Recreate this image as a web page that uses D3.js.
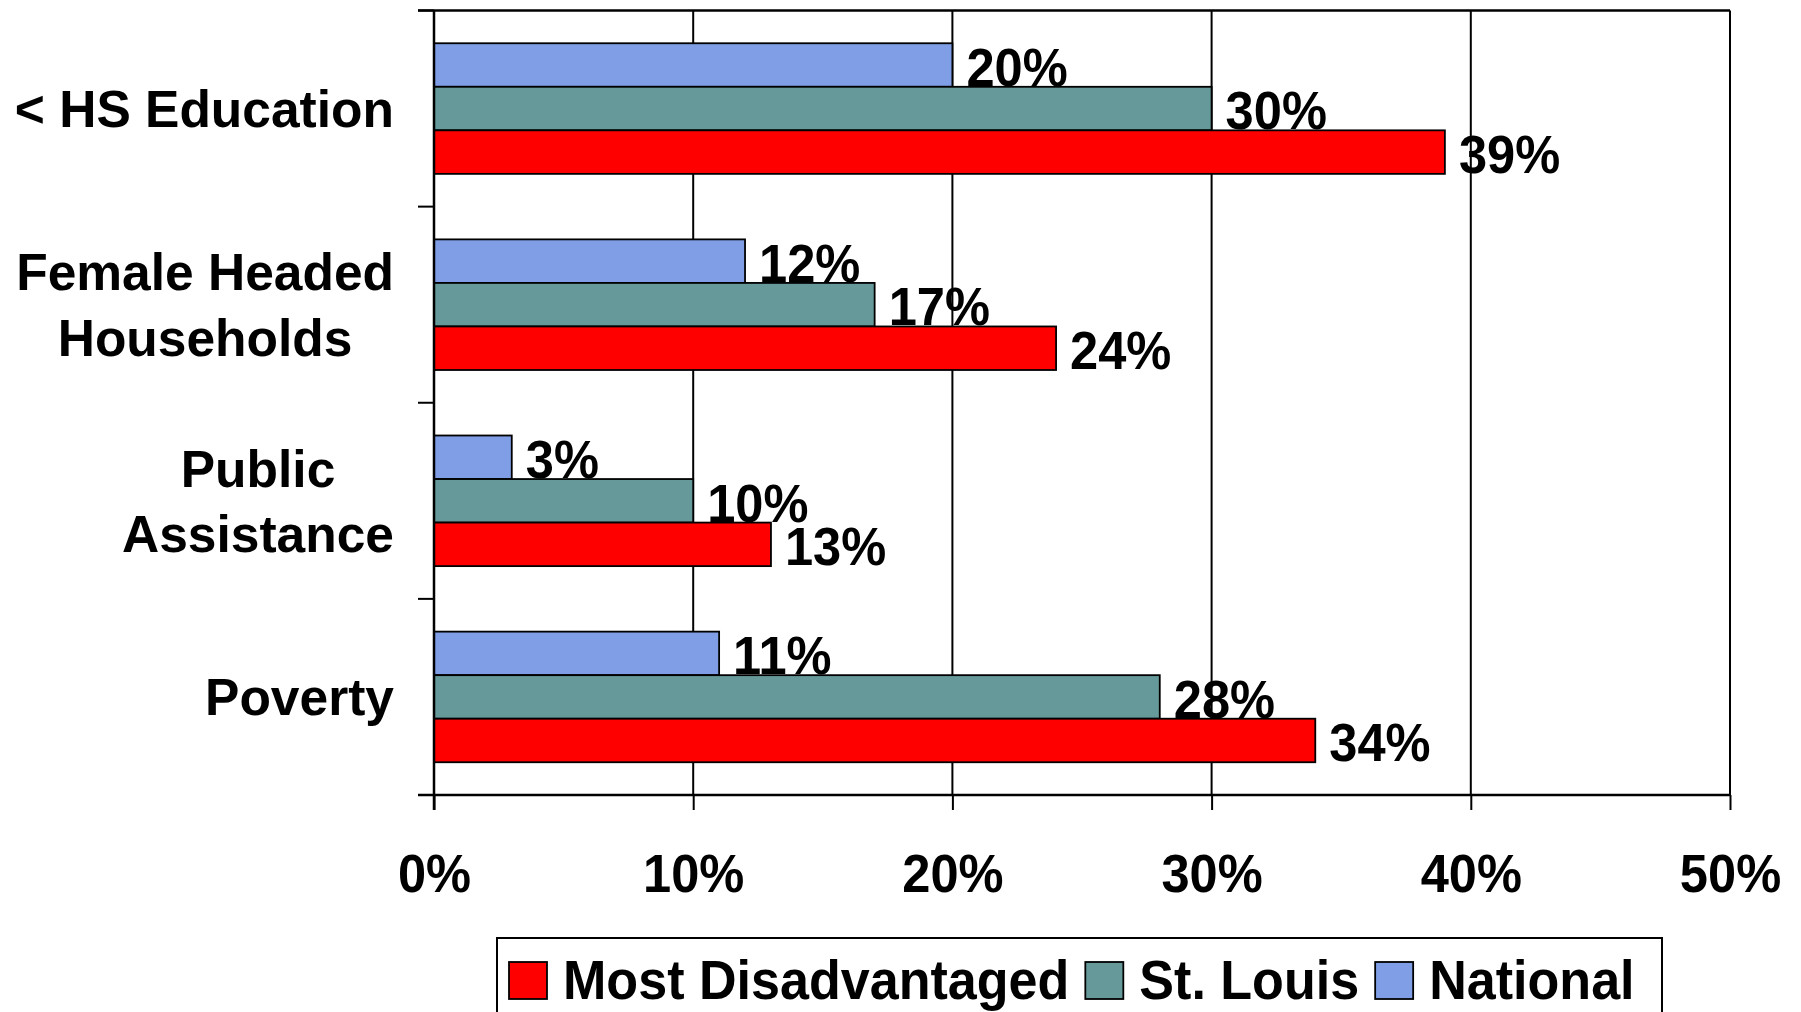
<!DOCTYPE html>
<html>
<head>
<meta charset="utf-8">
<script src="https://cdn.jsdelivr.net/npm/d3@7"></script>
<style>
	body { margin: 0; background: #fff; }
	svg { display: block; font-family: "Liberation Sans", Arial, sans-serif; font-weight: bold; }
</style>
</head>
<body>
<div id="chart"></div>
<script>
// categories top to bottom, each may break onto two lines
const categories = ["< HS Education", "Female Headed Households", "Public Assistance", "Poverty"];
const category_lines = [["< HS Education"], ["Female Headed", "Households"], ["Public", "Assistance"], ["Poverty"]];

// series in the order they are stacked inside a group (top to bottom)
const series = ["National", "St. Louis", "Most Disadvantaged"];
const national = [20, 12, 3, 11];
const st_louis = [30, 17, 10, 28];
const most_disadvantaged = [39, 24, 13, 34];

const x_ticks = [0, 10, 20, 30, 40, 50];
const legend_order = ["Most Disadvantaged", "St. Louis", "National"];

const color_list = { "National": "#7f9ee6", "St. Louis": "#669999", "Most Disadvantaged": "#ff0000" };

const width = 1801;
const height = 1012;
const margin = { top: 10.5, right: 71, bottom: 217, left: 434 };
const narrow = 0.93; // the numbers are drawn a bit condensed
const narrow_val = 0.955;

const values = { "National": national, "St. Louis": st_louis, "Most Disadvantaged": most_disadvantaged };

const svg = d3
	.select("#chart")
	.append("svg")
	.attr("width", width)
	.attr("height", height);

const x = d3
	.scaleLinear()
	.domain([0, 50])
	.range([margin.left, width - margin.right]);

const y = d3
	.scaleBand()
	.domain(categories)
	.range([margin.top, height - margin.bottom])
	.paddingInner(0.334)
	.paddingOuter(0.167);

const ySub = d3
	.scaleBand()
	.domain(series)
	.range([0, y.bandwidth()]);

const step = y.step();
const plotBottom = height - margin.bottom;

// vertical gridlines + right border
svg.append("g")
	.selectAll("line")
	.data(x_ticks.slice(1))
	.join("line")
	.attr("x1", (d) => x(d))
	.attr("x2", (d) => x(d))
	.attr("y1", margin.top)
	.attr("y2", plotBottom)
	.attr("stroke", "#000")
	.attr("stroke-width", 2);

// top border, running over the left tick
svg.append("line")
	.attr("x1", margin.left - 16)
	.attr("x2", x(50))
	.attr("y1", margin.top)
	.attr("y2", margin.top)
	.attr("stroke", "#000")
	.attr("stroke-width", 2.5);

// bars
const rows = [];
categories.forEach((c, i) => {
	series.forEach((s) => rows.push({ category: c, series: s, value: values[s][i] }));
});

svg.append("g")
	.selectAll("rect")
	.data(rows)
	.join("rect")
	.attr("x", x(0))
	.attr("y", (d) => y(d.category) + ySub(d.series))
	.attr("width", (d) => x(d.value) - x(0))
	.attr("height", ySub.bandwidth())
	.attr("fill", (d) => color_list[d.series])
	.attr("stroke", "#000")
	.attr("stroke-width", 1.8);

// value labels next to the bar end
svg.append("g")
	.selectAll("text")
	.data(rows)
	.join("text")
	.attr("transform", (d) =>
		`translate(${x(d.value) + 14}, ${y(d.category) + ySub(d.series) + ySub.bandwidth() - 1}) scale(${narrow_val}, 1)`)
	.attr("font-size", 53)
	.attr("fill", "#000")
	.text((d) => d.value + "%");

// left axis line + ticks at the category borders
svg.append("line")
	.attr("x1", margin.left)
	.attr("x2", margin.left)
	.attr("y1", margin.top)
	.attr("y2", plotBottom + 15)
	.attr("stroke", "#000")
	.attr("stroke-width", 2.5);

svg.append("g")
	.selectAll("line")
	.data(d3.range(categories.length + 1))
	.join("line")
	.attr("x1", margin.left - 16)
	.attr("x2", margin.left)
	.attr("y1", (i) => margin.top + i * step)
	.attr("y2", (i) => margin.top + i * step)
	.attr("stroke", "#000")
	.attr("stroke-width", 2);

// bottom axis
const xAxis = svg
	.append("g")
	.attr("transform", `translate(0, ${plotBottom})`)
	.call(d3.axisBottom(x).tickValues(x_ticks).tickSize(15).tickPadding(0).tickFormat((d) => d + "%"));

xAxis.select(".domain")
	.attr("d", `M${margin.left - 16},0H${x(50)}`)
	.attr("stroke", "#000")
	.attr("stroke-width", 2.5);
xAxis.selectAll(".tick line").attr("stroke", "#000").attr("stroke-width", 2);
xAxis.selectAll(".tick text")
	.attr("y", 0)
	.attr("dy", null)
	.attr("transform", `translate(0, 97) scale(${narrow_val}, 1)`)
	.attr("font-family", "Liberation Sans, Arial, sans-serif")
	.attr("font-weight", "bold")
	.attr("font-size", 53)
	.attr("fill", "#000");

// category labels, multi-line and centred, block right-aligned
const labelRight = 394;
const lineGap = 65.5;
const capHalf = 18.5;
categories.forEach((c, i) => {
	const lines = category_lines[i];
	const g = svg.append("g");
	const texts = lines.map((t, k) =>
		g.append("text")
			.attr("font-size", 51.5)
			.attr("text-anchor", "middle")
			.attr("fill", "#000")
			.attr("y", y(c) + y.bandwidth() / 2 + capHalf + (k - (lines.length - 1) / 2) * lineGap)
			.text(t)
	);
	const maxW = d3.max(texts, (t) => t.node().getComputedTextLength());
	texts.forEach((t) => t.attr("x", labelRight - maxW / 2));
});

// legend
const legend = svg.append("g");
legend.append("rect")
	.attr("x", 497)
	.attr("y", 938)
	.attr("width", 1165)
	.attr("height", 110)
	.attr("fill", "#fff")
	.attr("stroke", "#000")
	.attr("stroke-width", 2);

let lx = 509;
legend_order.forEach((s) => {
	legend.append("rect")
		.attr("x", lx)
		.attr("y", 962)
		.attr("width", 38)
		.attr("height", 37)
		.attr("fill", color_list[s])
		.attr("stroke", "#000")
		.attr("stroke-width", 1.8);
	const t = legend.append("text")
		.attr("transform", `translate(${lx + 54}, 999) scale(${narrow}, 1)`)
		.attr("font-size", 56)
		.attr("fill", "#000")
		.text(s);
	lx = lx + 54 + t.node().getComputedTextLength() * narrow + 16;
});
</script>
</body>
</html>
